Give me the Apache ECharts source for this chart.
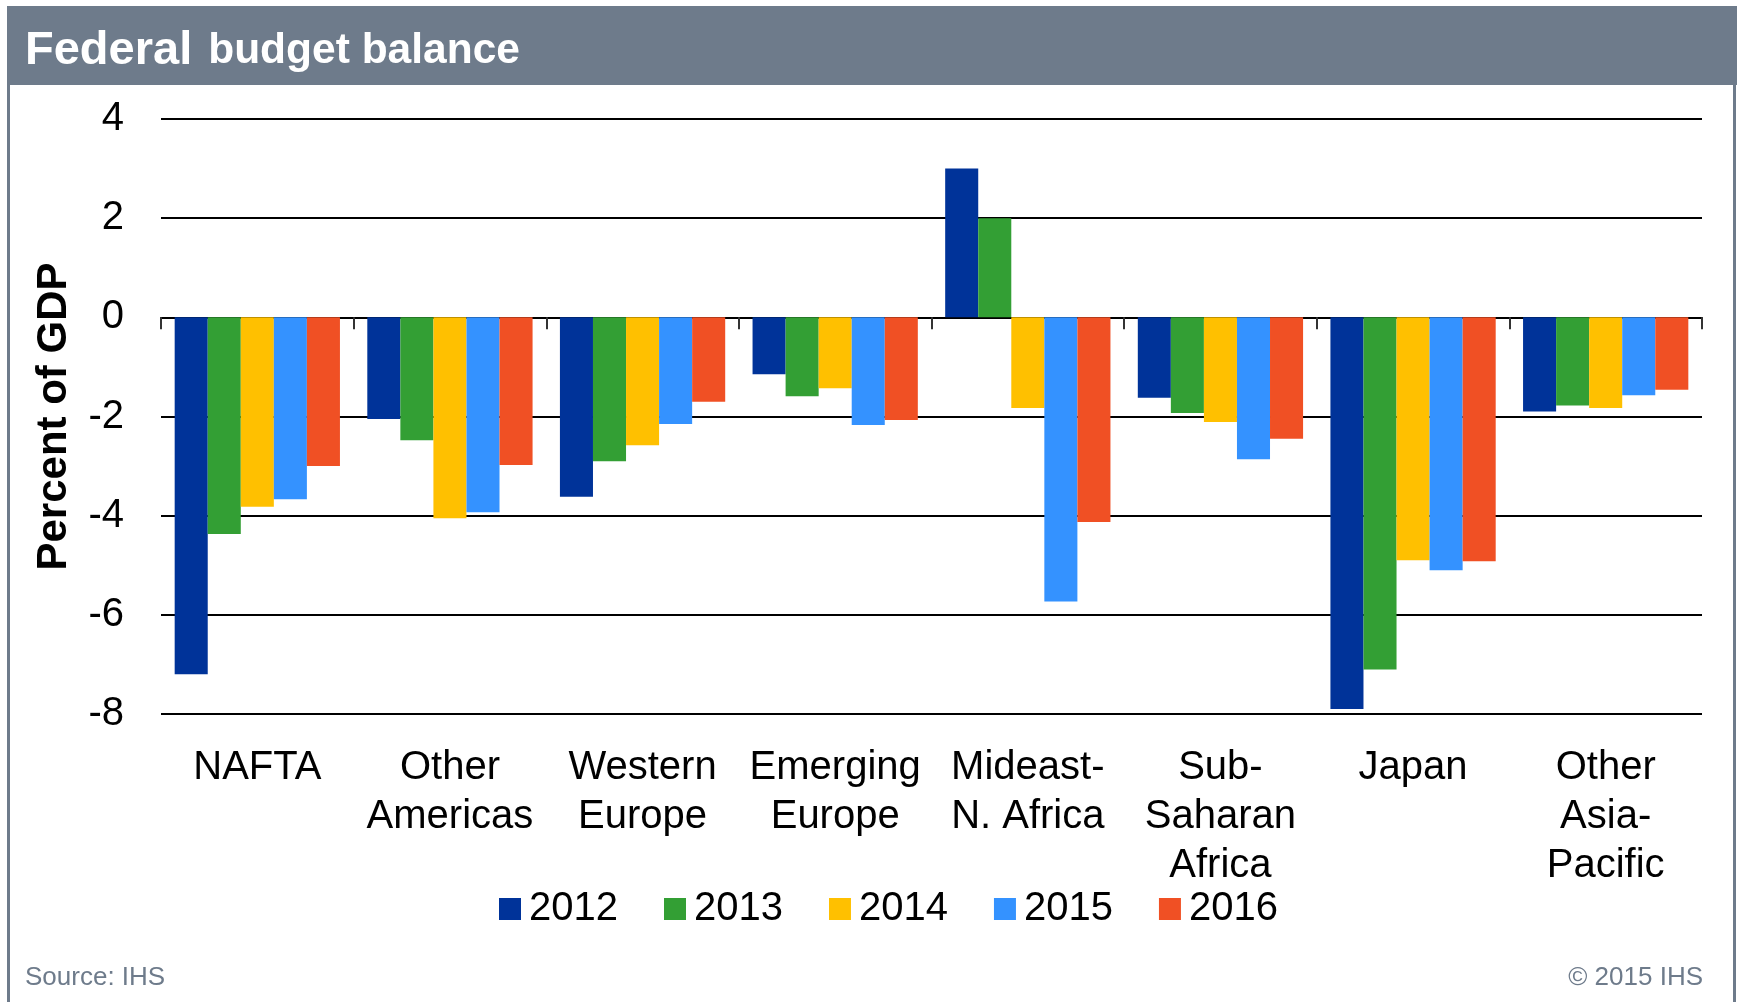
<!DOCTYPE html>
<html>
<head>
<meta charset="utf-8">
<script src="https://cdn.jsdelivr.net/npm/echarts@6/dist/echarts.min.js"></script>
<style>
html,body{margin:0;padding:0;background:#fff;}
#chart{width:1739px;height:1002px;}
</style>
</head>
<body>
<div id="chart"></div>
<script>
var categories = ['NAFTA', 'Other\nAmericas', 'Western\nEurope', 'Emerging\nEurope', 'Mideast-\nN. Africa', 'Sub-\nSaharan\nAfrica', 'Japan', 'Other\nAsia-\nPacific'];
var years = ['2012', '2013', '2014', '2015', '2016'];
var v2012 = [-7.2, -2.05, -3.62, -1.15, 3.0, -1.62, -7.9, -1.9];
var v2013 = [-4.37, -2.48, -2.9, -1.59, 2.0, -1.93, -7.1, -1.78];
var v2014 = [-3.82, -4.05, -2.58, -1.43, -1.83, -2.11, -4.9, -1.83];
var v2015 = [-3.67, -3.93, -2.15, -2.17, -5.73, -2.86, -5.1, -1.57];
var v2016 = [-3.0, -2.98, -1.7, -2.07, -4.13, -2.45, -4.92, -1.46];
var yTicks = [-8, -6, -4, -2, 0, 2, 4];
var colors = ['#003399', '#339F34', '#FFC000', '#3492FF', '#F05024'];
var FONT = 'Liberation Sans, Arial, sans-serif';

var seriesValues = [v2012, v2013, v2014, v2015, v2016];
var chart = echarts.init(document.getElementById('chart'), null, {renderer: 'canvas'});
var series = years.map(function (y, i) {
  return {
    name: y,
    type: 'bar',
    xAxisIndex: 0,
    data: seriesValues[i],
    barGap: '0%',
    barCategoryGap: '14.2%',
    itemStyle: {color: colors[i]}
  };
});

var option = {
  animation: false,
  color: colors,
  textStyle: {fontFamily: FONT},
  grid: {left: 161, right: 37, top: 119, bottom: 288, containLabel: false},
  xAxis: [
    {
      type: 'category',
      data: categories,
      position: 'bottom',
      axisLine: {show: false, onZero: false},
      axisTick: {show: false},
      axisLabel: {
        interval: 0,
        fontSize: 40,
        lineHeight: 49,
        color: '#000',
        fontFamily: FONT,
        margin: 29,
        align: 'center'
      }
    },
    {
      type: 'category',
      data: categories,
      position: 'bottom',
      axisLine: {show: true, onZero: true, lineStyle: {color: '#000', width: 2}},
      axisTick: {show: true, length: 12, lineStyle: {color: '#333', width: 2}},
      axisLabel: {show: false}
    }
  ],
  yAxis: {
    type: 'value',
    min: -8,
    max: 4,
    interval: 2,
    name: 'Percent of GDP',
    nameLocation: 'middle',
    nameGap: 86,
    nameTextStyle: {fontSize: 42, fontWeight: 'bold', color: '#000', fontFamily: FONT},
    axisLine: {show: false},
    axisTick: {show: false},
    axisLabel: {
      fontSize: 40,
      color: '#000',
      fontFamily: FONT,
      margin: 37,
      customValues: yTicks
    },
    splitLine: {show: true, lineStyle: {color: '#000', width: 2}}
  },
  legend: {
    data: years,
    left: 499,
    top: 889,
    orient: 'horizontal',
    padding: 0,
    itemWidth: 22,
    itemHeight: 22,
    itemGap: 46,
    icon: 'rect',
    textStyle: {fontSize: 40, color: '#000', fontFamily: FONT, padding: [0, 0, 0, 3]}
  },
  graphic: [
    {
      type: 'rect',
      shape: {x: 7, y: 6, width: 1730, height: 79},
      style: {fill: '#6E7B8B'},
      silent: true
    },
    {
      type: 'line',
      shape: {x1: 8.5, y1: 80, x2: 8.5, y2: 1002},
      style: {stroke: '#6E7B8B', lineWidth: 3},
      silent: true
    },
    {
      type: 'line',
      shape: {x1: 1734.5, y1: 80, x2: 1734.5, y2: 1002},
      style: {stroke: '#6E7B8B', lineWidth: 3},
      silent: true
    },
    {
      type: 'text',
      left: 25,
      top: 28,
      style: {
        text: '{a|Federal}{s| }{b|budget balance}',
        fill: '#fff',
        rich: {
          a: {fontSize: 47, fontWeight: 'bold', fill: '#fff', fontFamily: FONT},
          s: {fontSize: 20, width: 16},
          b: {fontSize: 42.5, fontWeight: 'bold', fill: '#fff', fontFamily: FONT}
        }
      },
      silent: true
    },
    {
      type: 'text',
      left: 25,
      top: 965,
      style: {text: 'Source: IHS', fontSize: 26, fill: '#6E7B8B', fontFamily: FONT},
      silent: true
    },
    {
      type: 'text',
      right: 36,
      top: 965,
      style: {text: '\u00A9 2015 IHS', fontSize: 26, fill: '#6E7B8B', fontFamily: FONT},
      silent: true
    }
  ],
  series: series
};
chart.setOption(option);
</script>
</body>
</html>
